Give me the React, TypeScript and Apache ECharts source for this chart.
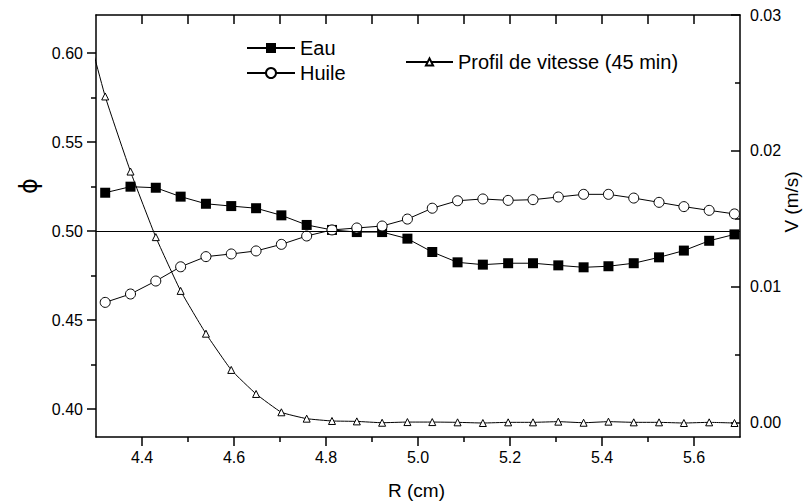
import React, { useEffect, useRef } from "react";
import * as echarts from "echarts";

// Radial positions R (cm)
const R = [4.32, 4.375, 4.43, 4.484, 4.539, 4.594, 4.648, 4.703, 4.758, 4.813, 4.867, 4.922, 4.977,
  5.031, 5.086, 5.141, 5.196, 5.25, 5.305, 5.36, 5.414, 5.469, 5.524, 5.578, 5.633, 5.688];

// phi values
const EAU = [0.5215, 0.5249, 0.5243, 0.5193, 0.5153, 0.514, 0.5128, 0.5088, 0.5034, 0.5006, 0.4994, 0.4994, 0.4957,
  0.4882, 0.4824, 0.4811, 0.4819, 0.4819, 0.4807, 0.4796, 0.4802, 0.4819, 0.4852, 0.489, 0.4945, 0.4981];
const HUILE = [0.4599, 0.4646, 0.4719, 0.4799, 0.4856, 0.4871, 0.4888, 0.4925, 0.4972, 0.5006, 0.5017, 0.5028, 0.5067,
  0.5128, 0.517, 0.518, 0.5172, 0.5176, 0.5191, 0.5206, 0.5206, 0.5185, 0.5161, 0.5137, 0.5116, 0.5096];

// Velocity profile (m/s); first point lies just left of the visible range
const R_V = [4.265, 4.32, 4.375, 4.43, 4.484, 4.539, 4.594, 4.648, 4.703, 4.758, 4.813, 4.867, 4.922, 4.977,
  5.031, 5.086, 5.141, 5.196, 5.25, 5.305, 5.36, 5.414, 5.469, 5.524, 5.578, 5.633, 5.688];
const VITESSE = [0.031, 0.024, 0.01847, 0.01364, 0.00968, 0.00653, 0.00386, 0.00209, 0.00074, 0.00027, 0.0001, 0.00007,
  -0.00003, 0.00002, 0.00002, 0.0, -0.00005, 0.0, 0.0, 0.00005, -0.00003, 0.00005, 0.0, 0.0, -0.00005, 0.0, -0.00005];

const X_LABELS = [4.4, 4.6, 4.8, 5.0, 5.2, 5.4, 5.6];
const X_MINOR = [4.5, 4.7, 4.9, 5.1, 5.3, 5.5];
const X_TOP = [4.4, 4.5, 4.6, 4.7, 4.8, 4.9, 5.0, 5.1, 5.2, 5.3, 5.4, 5.5, 5.6];
const PHI_LABELS = [0.4, 0.45, 0.5, 0.55, 0.6];
const PHI_MINOR = [0.425, 0.475, 0.525, 0.575];
const V_LABELS = [0.0, 0.01, 0.02, 0.03];
const V_MINOR = [0.005, 0.015, 0.025];

const FONT = "'Liberation Sans', Arial, 'DejaVu Sans', sans-serif";

export default function App() {
  const ref = useRef<HTMLDivElement>(null);
  useEffect(() => {
    if (!ref.current) return;
    const chart = echarts.init(ref.current, undefined, { renderer: "svg" });
    const axisLine = { show: true, onZero: false, lineStyle: { color: "#000", width: 1.5 } };
    const noLine = { show: false, onZero: false };
    const X_MIN = 4.3, X_MAX = 5.7;
    const PHI_MIN = 0.38427, PHI_MAX = 0.62135;
    const V_MIN = -0.00108, V_MAX = 0.03;
    chart.setOption({
      animation: false,
      backgroundColor: "#fff",
      textStyle: { fontFamily: FONT },
      grid: { left: 96, right: 63, top: 15, bottom: 65 },
      xAxis: [
        {
          type: "value", position: "bottom", min: X_MIN, max: X_MAX,
          axisLine,
          axisTick: { show: true, inside: false, length: 9, customValues: X_LABELS, lineStyle: { color: "#000", width: 1.5 } },
          axisLabel: { customValues: X_LABELS, formatter: (v: number) => v.toFixed(1), fontSize: 16, color: "#000", margin: 12, fontFamily: FONT },
          splitLine: { show: false },
        },
        {
          type: "value", position: "bottom", min: X_MIN, max: X_MAX,
          axisLine: noLine,
          axisTick: { show: true, inside: false, length: 5, customValues: X_MINOR, lineStyle: { color: "#000", width: 1.5 } },
          axisLabel: { show: false },
          splitLine: { show: false },
        },
        {
          type: "value", position: "top", min: X_MIN, max: X_MAX,
          axisLine,
          axisTick: { show: true, inside: true, length: 9, customValues: X_TOP, lineStyle: { color: "#000", width: 1.5 } },
          axisLabel: { show: false },
          splitLine: { show: false },
        },
      ],
      yAxis: [
        {
          type: "value", position: "left", min: PHI_MIN, max: PHI_MAX,
          axisLine,
          axisTick: { show: true, inside: false, length: 9, customValues: PHI_LABELS, lineStyle: { color: "#000", width: 1.5 } },
          axisLabel: { customValues: PHI_LABELS, formatter: (v: number) => v.toFixed(2), fontSize: 16, color: "#000", margin: 13, fontFamily: FONT },
          splitLine: { show: false },
        },
        {
          type: "value", position: "left", min: PHI_MIN, max: PHI_MAX,
          axisLine: noLine,
          axisTick: { show: true, inside: false, length: 5, customValues: PHI_MINOR, lineStyle: { color: "#000", width: 1.5 } },
          axisLabel: { show: false },
          splitLine: { show: false },
        },
        {
          type: "value", position: "right", min: V_MIN, max: V_MAX,
          axisLine,
          axisTick: { show: true, inside: true, length: 9, customValues: V_LABELS, lineStyle: { color: "#000", width: 1.5 } },
          axisLabel: { customValues: V_LABELS, formatter: (v: number) => v.toFixed(2), fontSize: 16, color: "#000", margin: 10, fontFamily: FONT },
          splitLine: { show: false },
        },
        {
          type: "value", position: "right", min: V_MIN, max: V_MAX,
          axisLine: noLine,
          axisTick: { show: true, inside: true, length: 5, customValues: V_MINOR, lineStyle: { color: "#000", width: 1.5 } },
          axisLabel: { show: false },
          splitLine: { show: false },
        },
      ],
      legend: [
        {
          data: ["Eau", "Huile"], orient: "vertical", left: 246, top: 38, padding: 0,
          itemWidth: 48, itemHeight: 12.5, itemGap: 5, selectedMode: false,
          textStyle: { fontSize: 20, color: "#000", fontFamily: FONT },
        },
        {
          data: ["Profil de vitesse (45 min)"], orient: "horizontal", left: 405, top: 52, padding: 0,
          itemWidth: 47, itemHeight: 9, selectedMode: false,
          textStyle: { fontSize: 20, color: "#000", fontFamily: FONT },
        },
      ],
      graphic: [
        { type: "text", left: 388, top: 481, style: { text: "R (cm)", fontSize: 19, fill: "#000", fontFamily: FONT } },
        { type: "text", x: 791, y: 202, rotation: Math.PI / 2, style: { text: "V (m/s)", fontSize: 19, fill: "#000", fontFamily: FONT, align: "center", verticalAlign: "middle" } },
        { type: "text", x: 29, y: 186, rotation: Math.PI / 2, style: { text: "ϕ", fontSize: 24, fill: "#000", fontFamily: "'DejaVu Sans', sans-serif", align: "center", verticalAlign: "middle" } },
      ],
      series: [
        {
          name: "Profil de vitesse (45 min)", type: "line", xAxisIndex: 0, yAxisIndex: 2,
          data: R_V.map((r, i) => [r, VITESSE[i]]),
          smooth: 0.12, clip: true,
          symbol: "triangle", symbolSize: 7,
          lineStyle: { color: "#000", width: 1 },
          itemStyle: { color: "#fff", borderColor: "#000", borderWidth: 1 },
          z: 3,
        },
        {
          name: "Eau", type: "line", xAxisIndex: 0, yAxisIndex: 0,
          data: R.map((r, i) => [r, EAU[i]]),
          symbol: "rect", symbolSize: 10,
          lineStyle: { color: "#000", width: 1 },
          itemStyle: { color: "#000", borderColor: "#000", borderWidth: 0 },
          markLine: {
            silent: true, symbol: "none", label: { show: false },
            lineStyle: { color: "#000", width: 1, type: "solid" },
            data: [{ yAxis: 0.5 }],
          },
          z: 4,
        },
        {
          name: "Huile", type: "line", xAxisIndex: 0, yAxisIndex: 0,
          data: R.map((r, i) => [r, HUILE[i]]),
          symbol: "circle", symbolSize: 10,
          lineStyle: { color: "#000", width: 1 },
          itemStyle: { color: "#fff", borderColor: "#000", borderWidth: 1 },
          z: 4,
        },
      ],
    });
    return () => chart.dispose();
  }, []);
  return <div ref={ref} style={{ position: "fixed", left: 0, top: 0, width: 803, height: 502 }} />;
}
